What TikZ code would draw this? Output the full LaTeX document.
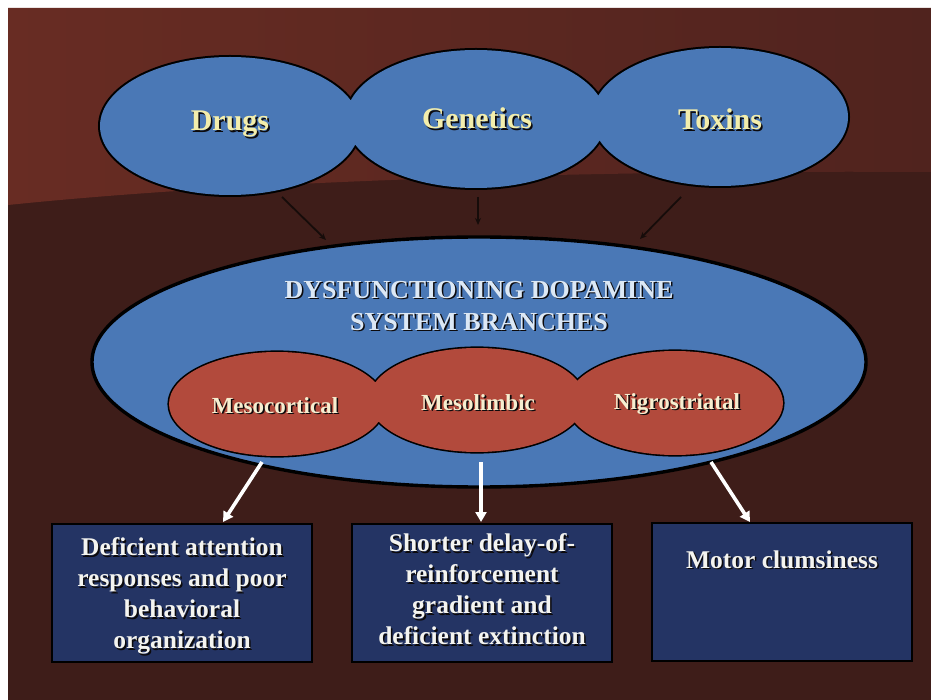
\documentclass[tikz,border=0pt]{standalone}
\usepackage{fontspec}
\setmainfont{Liberation Serif}
\usetikzlibrary{arrows.meta,shapes.geometric}
\definecolor{bglight}{RGB}{104,44,35}
\definecolor{bgmid}{RGB}{80,35,30}
\definecolor{bgdark}{RGB}{62,29,25}
\definecolor{cblue}{RGB}{74,120,182}
\definecolor{cred}{RGB}{178,74,60}
\definecolor{cnavy}{RGB}{36,52,100}
\definecolor{ctop}{RGB}{243,238,172}
\definecolor{cbig}{RGB}{220,232,245}
\definecolor{credtext}{RGB}{246,238,208}
\definecolor{cboxtext}{RGB}{244,244,240}
\definecolor{shadowc}{RGB}{12,10,12}
\definecolor{arrowdark}{RGB}{22,12,10}
\newlength\myshoff
\setlength\myshoff{1.6pt}
\newcommand\shtext[1]{\leavevmode\rlap{\kern\myshoff\raisebox{-\myshoff}{\textcolor{shadowc}{#1}}}#1}
\begin{document}
\begin{tikzpicture}[x=1pt,y=-1pt,
  blueell/.style={ellipse, draw=black, line width=4pt, inner sep=0pt, minimum width=260pt, minimum height=138pt},
  bigell/.style={ellipse, draw=black, line width=3.4pt, fill=cblue, inner sep=0pt, minimum width=774pt, minimum height=250pt},
  redell/.style={ellipse, draw=black, line width=3.2pt, inner sep=0pt, minimum width=216pt, minimum height=104pt},
  toptext/.style={font=\bfseries\fontsize{30}{36}\selectfont, text=ctop, inner sep=0pt, anchor=base},
  bigtext/.style={font=\bfseries\fontsize{26}{32}\selectfont, text=cbig, align=center, inner sep=0pt},
  redtext/.style={font=\bfseries\fontsize{23}{28}\selectfont, text=credtext, inner sep=0pt, anchor=base},
  boxtext/.style={font=\bfseries\fontsize{25.5}{31}\selectfont, text=cboxtext, align=center, inner sep=0pt},
  effbox/.style={draw=black, line width=1.6pt, fill=cnavy, minimum width=260pt, minimum height=138pt, inner sep=0pt},
  darkarrow/.style={draw=arrowdark, line width=1.8pt, -{Stealth[length=7pt,width=6pt]}},
  whitearrow/.style={draw=white, line width=3.6pt, -{Triangle[length=10pt,width=11pt]}}
]
\useasboundingbox (0,0) rectangle (931,700);
\fill[white] (0,0) rectangle (931,700);
% background
\fill[bgdark] (8,8) rectangle (931,700);
\shade[left color=bglight, right color=bgmid]
  (8,8) -- (931,8) -- (931,172) .. controls (600,170) and (250,180) .. (8,205) -- cycle;

% top ellipses: outlines, then fills
\node[blueell] (drugs) at (230,126) {};
\node[blueell] (genetics) at (476,119) {};
\node[blueell, minimum width=256pt] (toxins) at (720,117) {};
\fill[cblue] (drugs.center) ellipse (130 and 69)
             (genetics.center) ellipse (130 and 69)
             (toxins.center) ellipse (128 and 69);
\node[toptext] (drugsT) at (230,131) {\shtext{Drugs}};
\node[toptext] (geneticsT) at (477,129) {\shtext{Genetics}};
\node[toptext] (toxinsT) at (720,130) {\shtext{Toxins}};

% big ellipse
\node[bigell] (dopa) at (479,362) {};
\node[bigtext] (dopaT) at (479,306.5) {\shtext{DYSFUNCTIONING DOPAMINE}\\\shtext{SYSTEM BRANCHES}};

% red ellipses
\node[redell] (meso) at (277,404) {};
\node[redell] (limb) at (477,400) {};
\node[redell] (nigro) at (675,403) {};
\fill[cred] (meso.center) ellipse (108 and 52)
            (limb.center) ellipse (108 and 52)
            (nigro.center) ellipse (108 and 52);
\node[redtext] (mesoT) at (275,413) {\shtext{Mesocortical}};
\node[redtext] (limbT) at (478,410) {\shtext{Mesolimbic}};
\node[redtext] (nigroT) at (677,409) {\shtext{Nigrostriatal}};

% boxes
\node[effbox] (box1) at (182,593) {};
\node[effbox] (box2) at (482,593) {};
\node[effbox] (box3) at (782,592) {};
\node[boxtext] (box1T) at (182,597) {\shtext{Deficient attention}\\\shtext{responses and poor}\\\shtext{behavioral}\\\shtext{organization}};
\node[boxtext] (box2T) at (482,590) {\shtext{Shorter delay-of-}\\\shtext{reinforcement}\\\shtext{gradient and}\\\shtext{deficient extinction}};
\node[boxtext, anchor=base] (box3T) at (782,568) {\shtext{Motor clumsiness}};

% dark arrows
\coordinate (a1s) at (282,197); \coordinate (a1e) at (326,240);
\coordinate (a2s) at (478,197); \coordinate (a2e) at (478,225);
\coordinate (a3s) at (681,197); \coordinate (a3e) at (640,239);
\draw[darkarrow] (a1s) -- (a1e);
\draw[darkarrow] (a2s) -- (a2e);
\draw[darkarrow] (a3s) -- (a3e);

% white arrows
\coordinate (w1s) at (262,462); \coordinate (w1e) at (223,522);
\coordinate (w2s) at (481,462); \coordinate (w2e) at (481,522);
\coordinate (w3s) at (711,462); \coordinate (w3e) at (750,522);
\draw[whitearrow] (w1s) -- (w1e);
\draw[whitearrow] (w2s) -- (w2e);
\draw[whitearrow] (w3s) -- (w3e);
\end{tikzpicture}
\end{document}
